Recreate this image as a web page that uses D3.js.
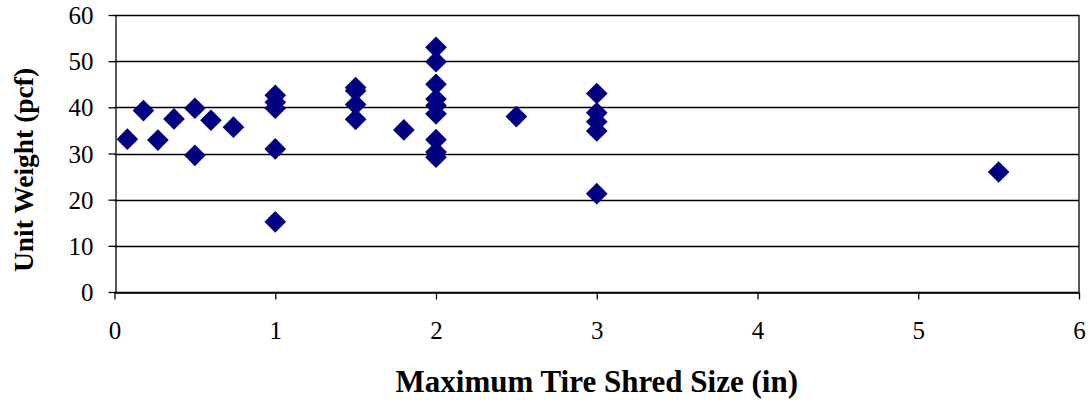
<!DOCTYPE html>
<html lang="en">
<head>
    <meta charset="UTF-8">
    <title>Unit Weight vs Maximum Tire Shred Size</title>
    <script src="https://d3js.org/d3.v7.min.js"></script>
    <style>
        body { margin: 0; background: #fff; }
        svg { display: block; font-family: "Liberation Serif", "Times New Roman", serif; }
        .tick text { font-size: 25px; fill: #000; }
        .axis-title { font-weight: bold; fill: #000; }
    </style>
</head>
<body>
    <div id="chart"></div>

    <script>
        // shred size (in) and unit weight (pcf)
        const shredSize = [0.08, 0.18, 0.27, 0.37, 0.5, 0.5, 0.6, 0.74,
            1, 1, 1, 1, 1,
            1.5, 1.5, 1.5, 1.5,
            1.8,
            2, 2, 2, 2, 2, 2, 2, 2, 2,
            2.5,
            3, 3, 3, 3, 3,
            5.5];
        const unitWeight = [33.1, 39.3, 32.9, 37.5, 39.8, 29.6, 37.2, 35.7,
            42.6, 41.1, 39.8, 31.0, 15.2,
            44.3, 43.6, 40.6, 37.4,
            35.1,
            53.0, 49.9, 45.0, 41.8, 40.4, 38.6, 33.0, 30.3, 29.2,
            38.0,
            43.0, 38.8, 36.9, 34.9, 21.3,
            26.0];
        const xTicks = [0, 1, 2, 3, 4, 5, 6];
        const yTicks = [0, 10, 20, 30, 40, 50, 60];

        const width = 1092, height = 404;
        const margin = { top: 15, right: 13, bottom: 112, left: 114.5 };

        const svg = d3.select("#chart").append("svg")
            .attr("width", width)
            .attr("height", height);

        const x = d3.scaleLinear()
            .domain([0, 6])
            .range([margin.left, width - margin.right]);

        const y = d3.scaleLinear()
            .domain([0, 60])
            .range([height - margin.bottom, margin.top]);

        // horizontal gridlines
        svg.append("g")
            .selectAll("line")
            .data(yTicks)
            .enter().append("line")
            .attr("x1", x(0)).attr("x2", x(6))
            .attr("y1", d => Math.round(y(d)) + 0.5)
            .attr("y2", d => Math.round(y(d)) + 0.5)
            .attr("stroke", "#000")
            .attr("stroke-width", 1.3);

        // right border of the plot area
        svg.append("line")
            .attr("x1", x(6)).attr("x2", x(6))
            .attr("y1", y(60)).attr("y2", y(0))
            .attr("stroke", "#000")
            .attr("stroke-width", 1.3);

        const xAxis = svg.append("g")
            .attr("transform", `translate(0, ${Math.round(y(0)) + 0.5})`)
            .call(d3.axisBottom(x).tickValues(xTicks).tickFormat(d3.format("d"))
                .tickSize(7).tickPadding(22).tickSizeOuter(0));

        const yAxis = svg.append("g")
            .attr("transform", `translate(${Math.round(x(0)) + 0.5}, 0)`)
            .call(d3.axisLeft(y).tickValues(yTicks).tickFormat(d3.format("d"))
                .tickSize(7).tickPadding(15).tickSizeOuter(0));

        [xAxis, yAxis].forEach(g => {
            g.attr("font-family", null).attr("font-size", null);
            g.selectAll("path, line").attr("stroke", "#000").attr("stroke-width", 1.3);
        });
        yAxis.selectAll("text").attr("dy", "0.34em");

        // diamonds
        svg.append("g")
            .selectAll("path")
            .data(shredSize)
            .enter().append("path")
            .attr("d", d3.symbol().type(d3.symbolSquare).size(235))
            .attr("transform", (d, i) => `translate(${x(d)}, ${y(unitWeight[i])}) rotate(45)`)
            .attr("fill", "#000080");

        svg.append("text")
            .attr("class", "axis-title")
            .attr("font-size", 31)
            .attr("text-anchor", "middle")
            .attr("x", (x(0) + x(6)) / 2)
            .attr("y", 392)
            .text("Maximum Tire Shred Size (in)");

        svg.append("text")
            .attr("class", "axis-title")
            .attr("font-size", 27.5)
            .attr("text-anchor", "middle")
            .attr("transform", "translate(33, 170) rotate(-90)")
            .text("Unit Weight (pcf)");
    </script>
</body>
</html>
